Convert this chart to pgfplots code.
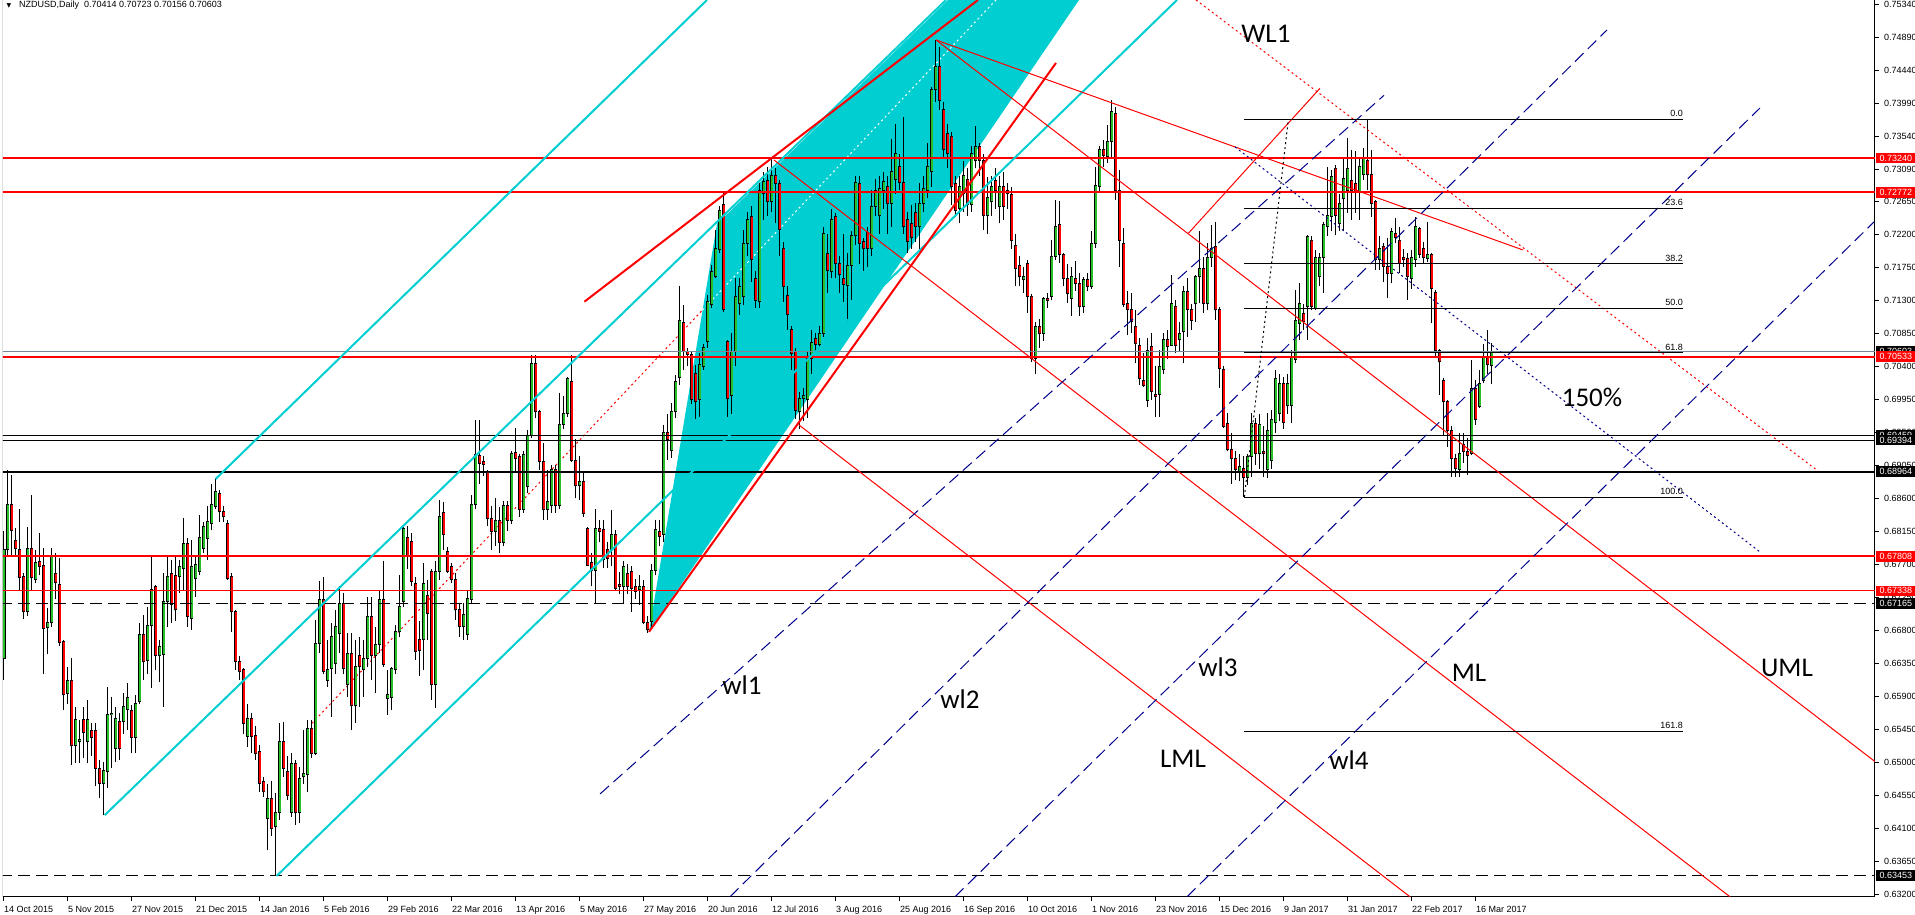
\documentclass[border=0pt]{standalone}
\usepackage{fontspec}
\setmainfont{Liberation Sans}
\newfontfamily\carlito{Carlito}
\newfontfamily\dejavu{DejaVu Sans}
\usepackage{pgfplots}
\usepackage{pgfplotstable}
\pgfplotsset{compat=1.18}
\definecolor{mtcyan}{RGB}{0,206,209}
\definecolor{mtgreen}{RGB}{40,190,40}
\definecolor{mtnavy}{RGB}{0,0,139}
\definecolor{bidgray}{RGB}{119,136,153}

\pgfplotstableread{
i o h l c
0 0.6642 0.6815 0.6612 0.6790
1 0.6790 0.6899 0.6783 0.6851
6 0.6705 0.6821 0.6700 0.6791
8 0.6749 0.6790 0.6744 0.6773
11 0.6684 0.6711 0.6647 0.6691
12 0.6690 0.6792 0.6685 0.6781
16 0.6594 0.6630 0.6580 0.6612
18 0.6523 0.6576 0.6499 0.6558
19 0.6528 0.6558 0.6499 0.6531
21 0.6528 0.6585 0.6499 0.6558
25 0.6471 0.6500 0.6428 0.6489
26 0.6487 0.6603 0.6465 0.6565
27 0.6565 0.6589 0.6492 0.6567
28 0.6519 0.6576 0.6501 0.6560
30 0.6555 0.6594 0.6539 0.6576
31 0.6572 0.6608 0.6544 0.6589
33 0.6534 0.6592 0.6512 0.6580
34 0.6583 0.6690 0.6580 0.6674
36 0.6639 0.6712 0.6621 0.6687
37 0.6687 0.6780 0.6601 0.6735
39 0.6645 0.6667 0.6610 0.6658
40 0.6647 0.6758 0.6576 0.6719
41 0.6719 0.6783 0.6685 0.6753
44 0.6753 0.6776 0.6731 0.6767
45 0.6764 0.6833 0.6735 0.6799
47 0.6696 0.6803 0.6681 0.6767
48 0.6750 0.6783 0.6726 0.6770
49 0.6760 0.6837 0.6755 0.6806
50 0.6792 0.6828 0.6785 0.6821
51 0.6805 0.6849 0.6776 0.6828
52 0.6826 0.6880 0.6817 0.6851
53 0.6849 0.6886 0.6846 0.6869
61 0.6535 0.6580 0.6521 0.6560
66 0.6424 0.6471 0.6380 0.6451
68 0.6412 0.6458 0.6345 0.6431
69 0.6431 0.6553 0.6421 0.6528
72 0.6431 0.6512 0.6426 0.6499
74 0.6431 0.6494 0.6417 0.6478
75 0.6480 0.6544 0.6471 0.6485
76 0.6483 0.6558 0.6460 0.6546
78 0.6512 0.6694 0.6510 0.6662
79 0.6662 0.6747 0.6649 0.6722
81 0.6612 0.6667 0.6603 0.6626
82 0.6628 0.6690 0.6562 0.6671
83 0.6635 0.6708 0.6621 0.6685
84 0.6676 0.6740 0.6649 0.6717
86 0.6606 0.6676 0.6589 0.6649
88 0.6578 0.6667 0.6553 0.6630
90 0.6626 0.6667 0.6589 0.6642
91 0.6642 0.6726 0.6630 0.6699
93 0.6645 0.6685 0.6594 0.6660
94 0.6660 0.6735 0.6649 0.6722
96 0.6587 0.6626 0.6565 0.6592
97 0.6589 0.6630 0.6571 0.6628
98 0.6626 0.6687 0.6621 0.6678
99 0.6678 0.6755 0.6671 0.6712
100 0.6719 0.6824 0.6712 0.6819
105 0.6667 0.6772 0.6626 0.6744
108 0.6606 0.6774 0.6574 0.6760
109 0.6760 0.6858 0.6749 0.6835
115 0.6685 0.6717 0.6667 0.6701
116 0.6674 0.6735 0.6667 0.6724
117 0.6722 0.6865 0.6717 0.6851
118 0.6851 0.6967 0.6846 0.6920
123 0.6815 0.6860 0.6795 0.6830
125 0.6800 0.6856 0.6795 0.6850
127 0.6830 0.6925 0.6825 0.6921
130 0.6845 0.6925 0.6840 0.6920
131 0.6876 0.6953 0.6867 0.6946
132 0.6946 0.7055 0.6942 0.7044
136 0.6845 0.6899 0.6830 0.6855
137 0.6850 0.6905 0.6840 0.6899
139 0.6850 0.7004 0.6845 0.6961
140 0.6961 0.6999 0.6954 0.6976
141 0.6976 0.7026 0.6971 0.7024
144 0.6878 0.6917 0.6858 0.6883
148 0.6762 0.6846 0.6717 0.6819
152 0.6790 0.6844 0.6767 0.6810
155 0.6740 0.6774 0.6717 0.6767
159 0.6735 0.6755 0.6715 0.6740
162 0.6692 0.6770 0.6685 0.6762
163 0.6762 0.6830 0.6755 0.6817
165 0.6810 0.6960 0.6800 0.6950
167 0.6925 0.6990 0.6915 0.6978
168 0.6978 0.7028 0.6970 0.7019
169 0.7025 0.7149 0.7015 0.7102
174 0.6995 0.7058 0.6971 0.7042
175 0.7040 0.7071 0.7035 0.7065
176 0.7074 0.7137 0.7065 0.7128
177 0.7124 0.7178 0.7120 0.7169
178 0.7162 0.7226 0.7160 0.7201
179 0.7199 0.7258 0.7194 0.7253
182 0.7000 0.7085 0.6975 0.7060
183 0.7060 0.7160 0.7040 0.7135
184 0.7125 0.7160 0.7110 0.7149
185 0.7135 0.7226 0.7124 0.7208
186 0.7208 0.7250 0.7190 0.7240
189 0.7128 0.7290 0.7120 0.7280
190 0.7275 0.7305 0.7240 0.7292
192 0.7265 0.7325 0.7250 0.7300
199 0.6978 0.7005 0.6955 0.6996
200 0.6996 0.7010 0.6965 0.7000
201 0.6995 0.7060 0.6970 0.7050
202 0.7050 0.7090 0.7030 0.7072
204 0.7070 0.7095 0.7065 0.7085
205 0.7085 0.7230 0.7080 0.7221
207 0.7169 0.7255 0.7160 0.7240
211 0.7150 0.7195 0.7100 0.7178
212 0.7178 0.7225 0.7130 0.7218
213 0.7218 0.7300 0.7205 0.7290
217 0.7200 0.7280 0.7190 0.7258
218 0.7258 0.7295 0.7245 0.7280
219 0.7245 0.7300 0.7221 0.7283
220 0.7280 0.7305 0.7255 0.7292
222 0.7262 0.7350 0.7230 0.7305
223 0.7295 0.7370 0.7275 0.7330
229 0.7230 0.7290 0.7200 0.7262
230 0.7262 0.7300 0.7250 0.7283
231 0.7280 0.7344 0.7270 0.7312
232 0.7305 0.7421 0.7285 0.7417
233 0.7417 0.7485 0.7400 0.7449
239 0.7255 0.7300 0.7235 0.7285
240 0.7275 0.7320 0.7250 0.7300
242 0.7260 0.7340 0.7250 0.7330
243 0.7320 0.7367 0.7310 0.7340
246 0.7245 0.7298 0.7221 0.7270
247 0.7265 0.7300 0.7245 0.7285
249 0.7258 0.7300 0.7235 0.7285
255 0.7158 0.7175 0.7140 0.7162
258 0.7051 0.7100 0.7030 0.7094
260 0.7085 0.7135 0.7075 0.7133
262 0.7135 0.7212 0.7130 0.7190
263 0.7190 0.7267 0.7185 0.7230
267 0.7133 0.7176 0.7108 0.7162
270 0.7121 0.7162 0.7112 0.7158
272 0.7149 0.7224 0.7146 0.7207
273 0.7207 0.7312 0.7201 0.7287
274 0.7285 0.7340 0.7278 0.7335
276 0.7326 0.7369 0.7317 0.7346
277 0.7346 0.7403 0.7326 0.7387
286 0.6994 0.7078 0.6985 0.7062
289 0.7001 0.7062 0.6971 0.7040
290 0.7035 0.7085 0.7030 0.7076
292 0.7069 0.7165 0.7067 0.7126
294 0.7076 0.7100 0.7060 0.7085
295 0.7087 0.7149 0.7044 0.7142
298 0.7126 0.7165 0.7101 0.7162
299 0.7162 0.7224 0.7126 0.7174
301 0.7126 0.7208 0.7117 0.7189
302 0.7189 0.7233 0.7176 0.7201
309 0.6896 0.6921 0.6883 0.6903
311 0.6889 0.6921 0.6878 0.6917
312 0.6917 0.6976 0.6889 0.6962
314 0.6921 0.6975 0.6900 0.6960
316 0.6899 0.6976 0.6887 0.6953
317 0.6912 0.6980 0.6900 0.6967
318 0.6964 0.7035 0.6949 0.7024
319 0.6976 0.7030 0.6965 0.7017
321 0.6987 0.7030 0.6975 0.7017
322 0.6987 0.7062 0.6962 0.7053
323 0.7049 0.7144 0.7044 0.7103
324 0.7099 0.7153 0.7076 0.7126
326 0.7121 0.7219 0.7076 0.7217
328 0.7119 0.7199 0.7117 0.7189
329 0.7162 0.7195 0.7150 0.7189
330 0.7189 0.7237 0.7140 0.7233
331 0.7230 0.7312 0.7217 0.7246
332 0.7244 0.7308 0.7224 0.7299
334 0.7235 0.7275 0.7225 0.7262
335 0.7269 0.7324 0.7224 0.7296
336 0.7280 0.7351 0.7249 0.7310
339 0.7278 0.7326 0.7240 0.7312
340 0.7301 0.7337 0.7294 0.7324
344 0.7185 0.7217 0.7171 0.7201
347 0.7167 0.7228 0.7153 0.7224
352 0.7160 0.7199 0.7146 0.7189
353 0.7185 0.7244 0.7176 0.7230
356 0.7187 0.7237 0.7182 0.7192
364 0.6899 0.6949 0.6889 0.6921
367 0.6921 0.7049 0.6919 0.7010
369 0.6985 0.7035 0.6983 0.7017
370 0.7021 0.7071 0.7017 0.7053
372 0.7041 0.7072 0.7016 0.7060
}\up

\pgfplotstableread{
i o h l c
2 0.6851 0.6892 0.6783 0.6816
3 0.6803 0.6819 0.6783 0.6791
4 0.6790 0.6845 0.6734 0.6752
5 0.6753 0.6758 0.6696 0.6705
7 0.6792 0.6865 0.6734 0.6752
9 0.6774 0.6812 0.6755 0.6767
10 0.6768 0.6792 0.6621 0.6683
13 0.6758 0.6785 0.6722 0.6745
14 0.6743 0.6778 0.6658 0.6663
15 0.6665 0.6667 0.6571 0.6592
17 0.6612 0.6642 0.6496 0.6523
20 0.6558 0.6576 0.6506 0.6540
22 0.6544 0.6553 0.6508 0.6534
23 0.6544 0.6553 0.6467 0.6492
24 0.6492 0.6503 0.6451 0.6471
29 0.6555 0.6567 0.6503 0.6519
32 0.6570 0.6578 0.6512 0.6534
35 0.6674 0.6701 0.6612 0.6637
38 0.6740 0.6742 0.6626 0.6645
42 0.6758 0.6776 0.6690 0.6715
43 0.6755 0.6783 0.6692 0.6708
46 0.6799 0.6806 0.6685 0.6699
54 0.6867 0.6871 0.6828 0.6842
55 0.6842 0.6849 0.6827 0.6835
56 0.6826 0.6831 0.6749 0.6751
57 0.6753 0.6758 0.6678 0.6705
58 0.6705 0.6708 0.6626 0.6637
59 0.6637 0.6645 0.6612 0.6624
60 0.6626 0.6628 0.6539 0.6553
62 0.6560 0.6567 0.6512 0.6535
63 0.6537 0.6549 0.6503 0.6512
64 0.6515 0.6523 0.6460 0.6471
65 0.6474 0.6480 0.6453 0.6460
67 0.6451 0.6474 0.6399 0.6410
70 0.6528 0.6555 0.6480 0.6492
71 0.6487 0.6508 0.6449 0.6455
73 0.6499 0.6503 0.6415 0.6431
77 0.6546 0.6558 0.6506 0.6512
80 0.6722 0.6753 0.6621 0.6624
85 0.6717 0.6731 0.6621 0.6628
87 0.6649 0.6676 0.6544 0.6578
89 0.6645 0.6671 0.6576 0.6630
92 0.6699 0.6726 0.6612 0.6645
95 0.6722 0.6774 0.6630 0.6633
101 0.6806 0.6822 0.6764 0.6780
102 0.6801 0.6812 0.6740 0.6747
103 0.6744 0.6753 0.6640 0.6651
104 0.6667 0.6692 0.6617 0.6653
106 0.6728 0.6749 0.6667 0.6703
107 0.6760 0.6764 0.6585 0.6606
110 0.6840 0.6855 0.6790 0.6810
111 0.6787 0.6794 0.6758 0.6760
112 0.6767 0.6772 0.6744 0.6749
113 0.6749 0.6758 0.6694 0.6708
114 0.6708 0.6717 0.6671 0.6685
119 0.6919 0.6967 0.6880 0.6908
120 0.6910 0.6918 0.6890 0.6906
121 0.6895 0.6899 0.6822 0.6833
122 0.6833 0.6850 0.6790 0.6815
124 0.6830 0.6848 0.6785 0.6800
126 0.6850 0.6856 0.6815 0.6830
128 0.6922 0.6956 0.6895 0.6914
129 0.6917 0.6920 0.6835 0.6845
133 0.7044 0.7055 0.6969 0.6978
134 0.6978 0.6980 0.6899 0.6910
135 0.6910 0.6935 0.6830 0.6845
138 0.6899 0.6905 0.6840 0.6850
142 0.7019 0.7055 0.6910 0.6912
143 0.6912 0.6941 0.6860 0.6878
145 0.6883 0.6895 0.6835 0.6839
146 0.6819 0.6821 0.6767 0.6769
147 0.6772 0.6785 0.6740 0.6762
149 0.6819 0.6830 0.6800 0.6815
150 0.6817 0.6830 0.6765 0.6776
151 0.6790 0.6800 0.6765 0.6778
153 0.6810 0.6817 0.6735 0.6737
154 0.6742 0.6760 0.6730 0.6740
156 0.6758 0.6770 0.6730 0.6740
157 0.6760 0.6767 0.6705 0.6737
158 0.6740 0.6750 0.6722 0.6733
160 0.6740 0.6749 0.6688 0.6690
161 0.6690 0.6700 0.6676 0.6681
164 0.6815 0.6830 0.6795 0.6808
166 0.6950 0.6975 0.6912 0.6940
170 0.7100 0.7124 0.7035 0.7060
171 0.7060 0.7065 0.7040 0.7056
172 0.7056 0.7060 0.6989 0.6995
173 0.7030 0.7042 0.6968 0.6992
180 0.7260 0.7278 0.7114 0.7117
181 0.7074 0.7076 0.6971 0.6996
187 0.7244 0.7258 0.7155 0.7185
188 0.7160 0.7170 0.7120 0.7130
191 0.7294 0.7312 0.7245 0.7265
193 0.7300 0.7310 0.7235 0.7289
194 0.7289 0.7294 0.7190 0.7226
195 0.7201 0.7210 0.7128 0.7149
196 0.7137 0.7149 0.7090 0.7110
197 0.7090 0.7095 0.7035 0.7058
198 0.7060 0.7065 0.6968 0.6980
203 0.7078 0.7085 0.7060 0.7070
206 0.7194 0.7221 0.7140 0.7170
208 0.7244 0.7249 0.7160 0.7180
209 0.7180 0.7190 0.7140 0.7165
210 0.7160 0.7221 0.7128 0.7152
214 0.7289 0.7300 0.7180 0.7208
215 0.7210 0.7215 0.7170 0.7200
216 0.7222 0.7230 0.7175 0.7201
221 0.7285 0.7300 0.7220 0.7262
224 0.7312 0.7330 0.7280 0.7290
225 0.7290 0.7380 0.7221 0.7230
226 0.7240 0.7250 0.7195 0.7210
227 0.7235 0.7260 0.7200 0.7215
228 0.7250 0.7262 0.7210 0.7230
234 0.7449 0.7476 0.7390 0.7403
235 0.7390 0.7400 0.7325 0.7335
236 0.7357 0.7370 0.7310 0.7330
237 0.7353 0.7360 0.7260 0.7285
238 0.7289 0.7300 0.7244 0.7253
241 0.7295 0.7310 0.7245 0.7260
244 0.7340 0.7345 0.7300 0.7320
245 0.7320 0.7330 0.7226 0.7245
248 0.7294 0.7310 0.7255 0.7280
250 0.7285 0.7305 0.7240 0.7258
251 0.7280 0.7290 0.7255 0.7275
252 0.7274 0.7285 0.7200 0.7212
253 0.7205 0.7220 0.7150 0.7174
254 0.7178 0.7190 0.7150 0.7162
256 0.7180 0.7185 0.7113 0.7135
257 0.7135 0.7138 0.7046 0.7051
259 0.7094 0.7105 0.7065 0.7085
261 0.7133 0.7140 0.7120 0.7130
264 0.7233 0.7265 0.7181 0.7192
265 0.7192 0.7194 0.7149 0.7160
266 0.7160 0.7180 0.7126 0.7139
268 0.7160 0.7183 0.7142 0.7153
269 0.7153 0.7167 0.7108 0.7121
271 0.7158 0.7167 0.7142 0.7149
275 0.7335 0.7349 0.7312 0.7328
278 0.7385 0.7394 0.7267 0.7280
279 0.7280 0.7308 0.7176 0.7212
280 0.7208 0.7228 0.7121 0.7124
281 0.7125 0.7142 0.7083 0.7117
282 0.7117 0.7140 0.7085 0.7101
283 0.7094 0.7117 0.7044 0.7071
284 0.7069 0.7078 0.7014 0.7024
285 0.7021 0.7058 0.7012 0.7014
287 0.7067 0.7085 0.6994 0.7005
288 0.7001 0.7040 0.6971 0.6999
291 0.7076 0.7090 0.7050 0.7067
293 0.7121 0.7130 0.7058 0.7069
296 0.7142 0.7160 0.7080 0.7117
297 0.7117 0.7125 0.7090 0.7103
300 0.7174 0.7189 0.7112 0.7126
303 0.7203 0.7237 0.7103 0.7117
304 0.7117 0.7121 0.7010 0.7037
305 0.7035 0.7040 0.6956 0.6958
306 0.6962 0.6976 0.6924 0.6926
307 0.6926 0.6949 0.6880 0.6914
308 0.6914 0.6924 0.6885 0.6899
310 0.6901 0.6917 0.6862 0.6889
313 0.6962 0.6970 0.6905 0.6921
315 0.6924 0.6958 0.6889 0.6921
320 0.7017 0.7025 0.6955 0.6964
325 0.7112 0.7125 0.7090 0.7101
327 0.7212 0.7217 0.7117 0.7121
333 0.7310 0.7315 0.7219 0.7246
337 0.7294 0.7335 0.7240 0.7280
338 0.7289 0.7333 0.7249 0.7278
341 0.7321 0.7377 0.7280 0.7301
342 0.7301 0.7335 0.7244 0.7262
343 0.7265 0.7267 0.7171 0.7185
345 0.7203 0.7208 0.7155 0.7176
346 0.7176 0.7215 0.7133 0.7167
348 0.7221 0.7242 0.7208 0.7215
349 0.7212 0.7230 0.7167 0.7180
350 0.7189 0.7200 0.7175 0.7185
351 0.7187 0.7194 0.7130 0.7162
354 0.7228 0.7230 0.7187 0.7192
355 0.7201 0.7210 0.7180 0.7189
357 0.7192 0.7194 0.7099 0.7146
358 0.7140 0.7144 0.7053 0.7062
359 0.7062 0.7064 0.7001 0.7046
360 0.7021 0.7024 0.6946 0.6992
361 0.6992 0.6994 0.6930 0.6953
362 0.6953 0.6958 0.6889 0.6914
363 0.6914 0.6921 0.6889 0.6901
365 0.6933 0.6949 0.6908 0.6924
366 0.6924 0.6942 0.6892 0.6919
368 0.7010 0.7021 0.6960 0.6967
371 0.7053 0.7090 0.7030 0.7042
}\dn

\begin{document}
\begin{tikzpicture}
\path[use as bounding box] (0pt,0pt) rectangle (1915pt,915pt);
\begin{axis}[
  at={(3pt,18pt)}, anchor=south west,
  width=1872pt, height=897pt, scale only axis,
  xmin=-0.25, xmax=467.75, ymin=0.63163, ymax=0.75395,
  axis x line*=bottom, axis y line*=right,
  axis line style={-, black, line width=1pt},
  tick align=outside, major tick length=4pt,
  tick style={black, line width=1pt},
  xtick={0,16,...,368},
  xticklabels={14 Oct 2015,5 Nov 2015,27 Nov 2015,21 Dec 2015,14 Jan 2016,5 Feb 2016,29 Feb 2016,22 Mar 2016,13 Apr 2016,5 May 2016,27 May 2016,20 Jun 2016,12 Jul 2016,3 Aug 2016,25 Aug 2016,16 Sep 2016,10 Oct 2016,1 Nov 2016,23 Nov 2016,15 Dec 2016,9 Jan 2017,31 Jan 2017,22 Feb 2017,16 Mar 2017},
  ytick={0.632,0.6365,0.641,0.6455,0.65,0.6545,0.659,0.6635,0.668,0.6725,0.677,0.6815,0.686,0.6905,0.695,0.6995,0.704,0.7085,0.713,0.7175,0.722,0.7265,0.7309,0.7354,0.7399,0.7444,0.7489,0.7534},
  yticklabels={0.63200,0.63650,0.64100,0.64550,0.65000,0.65450,0.65900,0.66350,0.66800,0.67250,0.67700,0.68150,0.68600,0.69050,0.69500,0.69950,0.70400,0.70850,0.71300,0.71750,0.72200,0.72650,0.73090,0.73540,0.73990,0.74440,0.74890,0.75340},
  xticklabel style={anchor=north west, inner sep=0pt, font=\fontsize{9}{10}\selectfont, yshift=-5pt},
  yticklabel style={anchor=west, inner sep=0pt, font=\fontsize{9}{10}\selectfont, xshift=5pt},
  /pgf/number format/assume math mode=true,
]
% cyan filled channel
\addplot[fill=mtcyan, draw=none] coordinates {(161.25,0.66779) (178.25,0.72341) (236,0.75395) (268.75,0.75395)} -- cycle;
% red dotted median (outside fill), white inside fill
\addplot[red, line width=1pt, dash pattern=on 2pt off 3pt] coordinates {(77,0.65532) (174.65,0.71168)};
\addplot[white, line width=1pt, dash pattern=on 2pt off 3pt] coordinates {(174.65,0.71168) (248,0.75395)};

% candles: wicks
\addplot[draw=none, mark=none, error bars/.cd, y dir=plus, y explicit, error mark=none, error bar style={draw=black, solid, line width=1pt}]
  table[x=i, y=l, y error plus expr=\thisrow{h}-\thisrow{l}] {\up};
\addplot[draw=none, mark=none, error bars/.cd, y dir=plus, y explicit, error mark=none, error bar style={draw=black, solid, line width=1pt}]
  table[x=i, y=l, y error plus expr=\thisrow{h}-\thisrow{l}] {\dn};
% bodies outline
\addplot[draw=none, mark=none, error bars/.cd, y dir=plus, y explicit, error mark=none, error bar style={draw=black, solid, line width=3pt}]
  table[x=i, y expr=\thisrow{o}-0.00007, y error plus expr=\thisrow{c}-\thisrow{o}+0.00014] {\up};
\addplot[draw=none, mark=none, error bars/.cd, y dir=plus, y explicit, error mark=none, error bar style={draw=black, solid, line width=3pt}]
  table[x=i, y expr=\thisrow{c}-0.00007, y error plus expr=\thisrow{o}-\thisrow{c}+0.00014] {\dn};
% bodies fill
\addplot[draw=none, mark=none, error bars/.cd, y dir=plus, y explicit, error mark=none, error bar style={draw=mtgreen, solid, line width=1.2pt}]
  table[x=i, y expr=\thisrow{o}+0.00007, y error plus expr={max(\thisrow{c}-\thisrow{o}-0.00014,0)}] {\up};
\addplot[draw=none, mark=none, error bars/.cd, y dir=plus, y explicit, error mark=none, error bar style={draw=red, solid, line width=1.2pt}]
  table[x=i, y expr=\thisrow{c}+0.00007, y error plus expr={max(\thisrow{o}-\thisrow{c}-0.00014,0)}] {\dn};

% horizontal levels
\addplot[bidgray, line width=1pt] coordinates {(-1,0.70603) (470,0.70603)};
\addplot[red, line width=2pt] coordinates {(-1,0.73240) (470,0.73240)};
\addplot[red, line width=2pt] coordinates {(-1,0.72772) (470,0.72772)};
\addplot[red, line width=2pt] coordinates {(-1,0.70533) (470,0.70533)};
\addplot[red, line width=2pt] coordinates {(-1,0.67808) (470,0.67808)};
\addplot[red, line width=1pt] coordinates {(-1,0.67338) (470,0.67338)};
\addplot[black, line width=1pt] coordinates {(-1,0.69459) (470,0.69459)};
\addplot[black, line width=1pt] coordinates {(-1,0.69394) (470,0.69394)};
\addplot[black, line width=2pt] coordinates {(-1,0.68964) (470,0.68964)};
\addplot[black, line width=1pt, dash pattern=on 12pt off 6pt] coordinates {(-1,0.67165) (470,0.67165)};
\addplot[black, line width=1pt, dash pattern=on 12pt off 6pt] coordinates {(-1,0.63453) (470,0.63453)};

% cyan channel lines
\addplot[mtcyan, line width=2pt] coordinates {(52.9,0.68863) (175.75,0.75395)};
\addplot[mtcyan, line width=2pt] coordinates {(25.2,0.6428) (235.5,0.75395)};
\addplot[mtcyan, line width=2pt] coordinates {(68.15,0.6345) (293.25,0.75395)};
% red thick wedge lines
\addplot[red, line width=2pt] coordinates {(145.1,0.71281) (243.5,0.75395)};
\addplot[red, line width=2pt] coordinates {(161.25,0.66779) (263,0.74536)};
% red thin lines
\addplot[red, line width=1pt] coordinates {(233,0.74850) (379.75,0.71986)};
\addplot[red, line width=1pt] coordinates {(233,0.74850) (467.75,0.6501)};
\addplot[red, line width=1pt] coordinates {(192.5,0.73213) (431.5,0.63166)};
\addplot[red, line width=1pt] coordinates {(198.75,0.69600) (351.5,0.63166)};
\addplot[red, line width=1pt] coordinates {(296.1,0.72214) (329,0.74191)};
% red dotted warning line
\addplot[red, line width=1pt, dash pattern=on 2pt off 3pt] coordinates {(298,0.75395) (453.5,0.68972)};
% blue dashed warning lines
\addplot[mtnavy, line width=1pt, dash pattern=on 12pt off 6pt] coordinates {(149,0.64568) (345,0.74095)};
\addplot[mtnavy, line width=1pt, dash pattern=on 12pt off 6pt] coordinates {(181.5,0.63166) (400.75,0.74986)};
\addplot[mtnavy, line width=1pt, dash pattern=on 12pt off 6pt] coordinates {(237.75,0.63166) (439,0.73922)};
\addplot[mtnavy, line width=1pt, dash pattern=on 12pt off 6pt] coordinates {(295.75,0.63166) (467.5,0.72368)};
% blue dotted
\addplot[mtnavy, line width=1pt, dash pattern=on 2pt off 3pt] coordinates {(307.75,0.73391) (439,0.67868)};
% fibonacci
\addplot[black, line width=1pt, dash pattern=on 2pt off 3pt] coordinates {(310.1,0.6862) (321.1,0.73768)};
\addplot[black, line width=1pt] coordinates {(310.1,0.73772) (419.75,0.73772)};
\addplot[black, line width=1pt] coordinates {(310.1,0.72555) (419.75,0.72555)};
\addplot[black, line width=1pt] coordinates {(310.1,0.71802) (419.75,0.71802)};
\addplot[black, line width=1pt] coordinates {(310.1,0.71193) (419.75,0.71193)};
\addplot[black, line width=1pt] coordinates {(310.1,0.70590) (419.75,0.70590)};
\addplot[black, line width=1pt] coordinates {(310.1,0.68614) (419.75,0.68614)};
\addplot[black, line width=1pt] coordinates {(310.1,0.65426) (419.75,0.65426)};

\draw[black, line width=1pt] (rel axis cs:0,0) -- (rel axis cs:0,1);

\begin{scope}[every node/.style={anchor=south east, inner sep=0pt, font=\fontsize{9}{10}\selectfont, yshift=2pt}]
\node at (axis cs:419.75,0.73772) {0.0};
\node at (axis cs:419.75,0.72555) {23.6};
\node at (axis cs:419.75,0.71802) {38.2};
\node at (axis cs:419.75,0.71193) {50.0};
\node at (axis cs:419.75,0.70590) {61.8};
\node at (axis cs:419.75,0.68614) {100.0};
\node at (axis cs:419.75,0.65426) {161.8};
\end{scope}

\begin{scope}[every node/.style={inner sep=0pt, font=\carlito\fontsize{27}{30}\selectfont}]
\node at (axis cs:315.5,0.74932) {WL1};
\node at (axis cs:184.5,0.66054) {wl1};
\node at (axis cs:239,0.65866) {wl2};
\node at (axis cs:303.5,0.66300) {wl3};
\node at (axis cs:336.25,0.65034) {wl4};
\node at (axis cs:294.75,0.65048) {LML};
\node at (axis cs:366.25,0.66218) {ML};
\node at (axis cs:445.75,0.66286) {UML};
\node at (axis cs:397,0.69981) {150\%};
\end{scope}

\node[anchor=west, inner sep=0pt, font=\fontsize{9}{10}\selectfont] at (axis cs:3.75,0.75320) {NZDUSD,Daily\ \ 0.70414 0.70723 0.70156 0.70603};
\node[anchor=center, inner sep=0pt, font=\dejavu\fontsize{6}{6}\selectfont] at (axis cs:1.25,0.75320) {▼};

\coordinate (b70603) at (axis cs:467.75,0.70603);
\coordinate (b69459) at (axis cs:467.75,0.69459);
\coordinate (b73240) at (axis cs:467.75,0.73240);
\coordinate (b72772) at (axis cs:467.75,0.72772);
\coordinate (b70533) at (axis cs:467.75,0.70533);
\coordinate (b69394) at (axis cs:467.75,0.69394);
\coordinate (b68964) at (axis cs:467.75,0.68964);
\coordinate (b67808) at (axis cs:467.75,0.67808);
\coordinate (b67338) at (axis cs:467.75,0.67338);
\coordinate (b67165) at (axis cs:467.75,0.67165);
\coordinate (b63453) at (axis cs:467.75,0.63453);
\end{axis}
\begin{scope}[every node/.style={anchor=west, text=white, inner xsep=3.5pt, inner ysep=0pt, minimum height=10.5pt, xshift=1pt, font=\fontsize{9}{10}\selectfont}]
\node[fill=black] at (b70603) {0.70603};
\node[fill=black] at (b69459) {0.69459};
\node[fill=red] at (b73240) {0.73240};
\node[fill=red] at (b72772) {0.72772};
\node[fill=red] at (b70533) {0.70533};
\node[fill=black] at (b69394) {0.69394};
\node[fill=black] at (b68964) {0.68964};
\node[fill=red] at (b67808) {0.67808};
\node[fill=red] at (b67338) {0.67338};
\node[fill=black] at (b67165) {0.67165};
\node[fill=black] at (b63453) {0.63453};
\end{scope}
\end{tikzpicture}
\end{document}
